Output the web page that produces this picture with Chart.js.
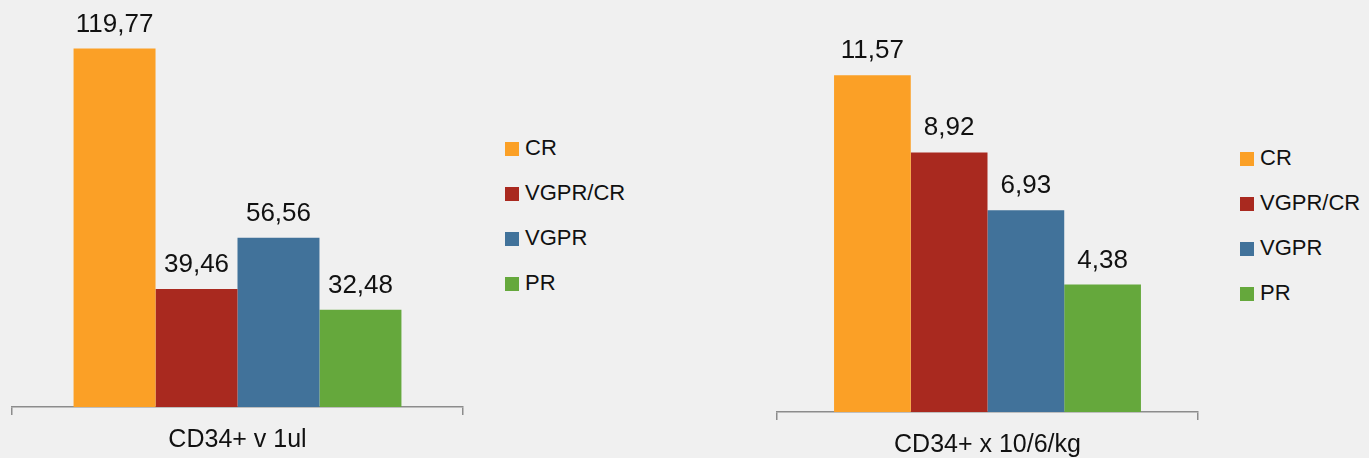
<!DOCTYPE html>
<html lang="pt-BR">
<head>
  <meta charset="UTF-8">
  <title>CD34+</title>
  <script src="https://cdn.jsdelivr.net/npm/chart.js"></script>
  <style>
    body {
      margin: 0;
      padding: 0;
      width: 1369px;
      height: 458px;
      overflow: hidden;
      background-color: #f0f0f0;
      font-family: "Liberation Sans", Arial, sans-serif;
      position: relative;
    }
    .caixa {
      position: absolute;
      top: 0;
    }
    .legenda {
      position: absolute;
      color: #111;
      font-size: 22px;
    }
    .legenda div {
      position: absolute;
      left: 0;
      white-space: nowrap;
      line-height: 24px;
      height: 24px;
    }
    .legenda span {
      display: inline-block;
      width: 14px;
      height: 14px;
      margin-right: 6px;
      vertical-align: -1px;
    }
  </style>
</head>
<body>
  <div class="caixa" style="left:0;width:475px;height:465px"><canvas id="graficoEsq"></canvas></div>
  <div class="caixa" style="left:765px;width:445px;height:470px"><canvas id="graficoDir"></canvas></div>
  <div class="legenda" id="legEsq" style="left:505px;top:136px"></div>
  <div class="legenda" id="legDir" style="left:1240px;top:146px"></div>

  <script>
    const grupos = ['CR', 'VGPR/CR', 'VGPR', 'PR'];
    const cores = ['#fba026', '#a9291f', '#41729a', '#65a83c'];

    const categoriaEsq = ['CD34+ v 1ul'];
    const valoresEsq = [119.77, 39.46, 56.56, 32.48];

    const categoriaDir = ['CD34+ x 10/6/kg'];
    const valoresDir = [11.57, 8.92, 6.93, 4.38];

    const fonte = '"Liberation Sans", Arial, sans-serif';

    // rótulos com vírgula acima de cada barra
    const rotulos = {
      id: 'rotulos',
      afterDatasetsDraw(chart) {
        const ctx = chart.ctx;
        ctx.save();
        ctx.font = '26px ' + fonte;
        ctx.fillStyle = '#111';
        ctx.textAlign = 'center';
        ctx.textBaseline = 'alphabetic';
        chart.data.datasets.forEach((ds, i) => {
          const bar = chart.getDatasetMeta(i).data[0];
          const txt = ds.data[0].toFixed(2).replace('.', ',');
          ctx.fillText(txt, bar.x, bar.y - 17);
        });
        ctx.restore();
      }
    };

    function grafico(id, categoria, valores, yMax, catPct) {
      new Chart(document.getElementById(id), {
        type: 'bar',
        data: {
          labels: categoria,
          datasets: grupos.map((g, i) => ({
            label: g,
            data: [valores[i]],
            backgroundColor: cores[i],
            borderWidth: 0
          }))
        },
        options: {
          responsive: true,
          maintainAspectRatio: false,
          animation: false,
          categoryPercentage: catPct,
          barPercentage: 1,
          layout: { padding: { left: 12, right: 12, top: 0, bottom: 0 } },
          plugins: {
            legend: { display: false },
            tooltip: { enabled: false }
          },
          scales: {
            x: {
              grid: {
                display: true,
                drawOnChartArea: false,
                drawTicks: true,
                tickLength: 8,
                color: '#8c8c8c',
                lineWidth: 1.5
              },
              border: { display: true, color: '#8c8c8c', width: 1.5 },
              ticks: {
                color: '#111',
                padding: 10,
                font: { family: fonte, size: 25 }
              }
            },
            y: {
              display: false,
              min: 0,
              max: yMax
            }
          }
        },
        plugins: [rotulos]
      });
    }

    grafico('graficoEsq', categoriaEsq, valoresEsq, 136, 0.727);
    grafico('graficoDir', categoriaDir, valoresDir, 14.16, 0.729);

    function legenda(id) {
      const el = document.getElementById(id);
      grupos.forEach((g, i) => {
        const d = document.createElement('div');
        d.style.top = (i * 45) + 'px';
        d.innerHTML = '<span style="background:' + cores[i] + '"></span>' + g;
        el.appendChild(d);
      });
    }
    legenda('legEsq');
    legenda('legDir');
  </script>
</body>
</html>
